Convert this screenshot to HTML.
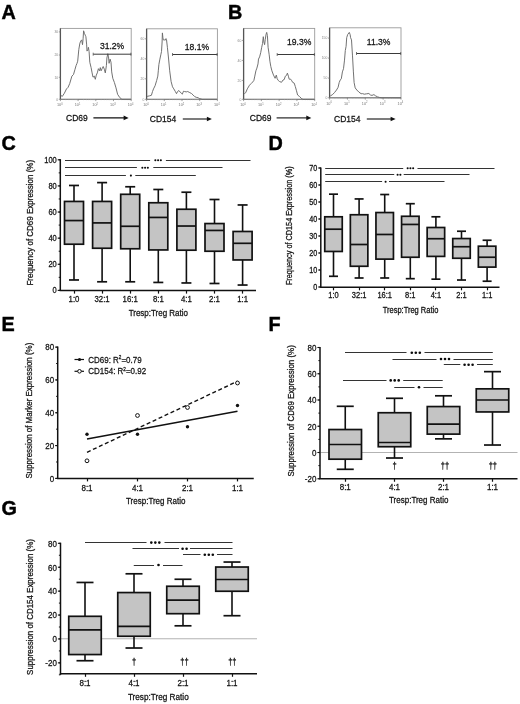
<!DOCTYPE html>
<html><head><meta charset="utf-8"><title>Figure</title>
<style>html,body{margin:0;padding:0;background:#fff;width:520px;height:704px;overflow:hidden}</style>
</head><body>
<svg width="520" height="704" viewBox="0 0 520 704" style="display:block;will-change:transform">
<rect width="520" height="704" fill="#ffffff"/>
<g font-family='"Liberation Sans", sans-serif'>
<text x="1.40" y="18.60" font-size="19.8" text-anchor="start" font-weight="bold" fill="#000" stroke="#000" stroke-width="0.45" >A</text>
<text x="228.00" y="18.60" font-size="19.8" text-anchor="start" font-weight="bold" fill="#000" stroke="#000" stroke-width="0.45" >B</text>
<text x="1.60" y="150.00" font-size="19.8" text-anchor="start" font-weight="bold" fill="#000" stroke="#000" stroke-width="0.45" >C</text>
<text x="268.50" y="149.80" font-size="19.8" text-anchor="start" font-weight="bold" fill="#000" stroke="#000" stroke-width="0.45" >D</text>
<text x="1.50" y="330.50" font-size="19.8" text-anchor="start" font-weight="bold" fill="#000" stroke="#000" stroke-width="0.45" >E</text>
<text x="268.50" y="330.50" font-size="19.8" text-anchor="start" font-weight="bold" fill="#000" stroke="#000" stroke-width="0.45" >F</text>
<text x="1.50" y="514.70" font-size="19.8" text-anchor="start" font-weight="bold" fill="#000" stroke="#000" stroke-width="0.45" >G</text>
<rect x="60.40" y="28.40" width="70.80" height="70.90" fill="none" stroke="#9a9a9a" stroke-width="0.9"/>
<line x1="60.40" y1="28.40" x2="60.40" y2="99.30" stroke="#555" stroke-width="1.3" />
<line x1="60.40" y1="99.30" x2="131.20" y2="99.30" stroke="#7a7a7a" stroke-width="1.0" />
<line x1="58.80" y1="31.90" x2="60.40" y2="31.90" stroke="#777" stroke-width="0.7" />
<text x="58.20" y="33.10" font-size="3.4" text-anchor="end" fill="#888">30</text>
<line x1="58.80" y1="55.00" x2="60.40" y2="55.00" stroke="#777" stroke-width="0.7" />
<text x="58.20" y="56.20" font-size="3.4" text-anchor="end" fill="#888">20</text>
<line x1="58.80" y1="77.30" x2="60.40" y2="77.30" stroke="#777" stroke-width="0.7" />
<text x="58.20" y="78.50" font-size="3.4" text-anchor="end" fill="#888">10</text>
<line x1="58.80" y1="99.30" x2="60.40" y2="99.30" stroke="#777" stroke-width="0.7" />
<text x="58.20" y="100.50" font-size="3.4" text-anchor="end" fill="#888">0</text>
<line x1="65.73" y1="99.30" x2="65.73" y2="100.20" stroke="#aaa" stroke-width="0.5" />
<line x1="68.85" y1="99.30" x2="68.85" y2="100.20" stroke="#aaa" stroke-width="0.5" />
<line x1="71.06" y1="99.30" x2="71.06" y2="100.20" stroke="#aaa" stroke-width="0.5" />
<line x1="72.77" y1="99.30" x2="72.77" y2="100.20" stroke="#aaa" stroke-width="0.5" />
<line x1="74.17" y1="99.30" x2="74.17" y2="100.20" stroke="#aaa" stroke-width="0.5" />
<line x1="75.36" y1="99.30" x2="75.36" y2="100.20" stroke="#aaa" stroke-width="0.5" />
<line x1="76.38" y1="99.30" x2="76.38" y2="100.20" stroke="#aaa" stroke-width="0.5" />
<line x1="77.29" y1="99.30" x2="77.29" y2="100.20" stroke="#aaa" stroke-width="0.5" />
<line x1="60.40" y1="99.30" x2="60.40" y2="101.10" stroke="#777" stroke-width="0.7" />
<line x1="83.43" y1="99.30" x2="83.43" y2="100.20" stroke="#aaa" stroke-width="0.5" />
<line x1="86.55" y1="99.30" x2="86.55" y2="100.20" stroke="#aaa" stroke-width="0.5" />
<line x1="88.76" y1="99.30" x2="88.76" y2="100.20" stroke="#aaa" stroke-width="0.5" />
<line x1="90.47" y1="99.30" x2="90.47" y2="100.20" stroke="#aaa" stroke-width="0.5" />
<line x1="91.87" y1="99.30" x2="91.87" y2="100.20" stroke="#aaa" stroke-width="0.5" />
<line x1="93.06" y1="99.30" x2="93.06" y2="100.20" stroke="#aaa" stroke-width="0.5" />
<line x1="94.08" y1="99.30" x2="94.08" y2="100.20" stroke="#aaa" stroke-width="0.5" />
<line x1="94.99" y1="99.30" x2="94.99" y2="100.20" stroke="#aaa" stroke-width="0.5" />
<line x1="78.10" y1="99.30" x2="78.10" y2="101.10" stroke="#777" stroke-width="0.7" />
<line x1="101.13" y1="99.30" x2="101.13" y2="100.20" stroke="#aaa" stroke-width="0.5" />
<line x1="104.25" y1="99.30" x2="104.25" y2="100.20" stroke="#aaa" stroke-width="0.5" />
<line x1="106.46" y1="99.30" x2="106.46" y2="100.20" stroke="#aaa" stroke-width="0.5" />
<line x1="108.17" y1="99.30" x2="108.17" y2="100.20" stroke="#aaa" stroke-width="0.5" />
<line x1="109.57" y1="99.30" x2="109.57" y2="100.20" stroke="#aaa" stroke-width="0.5" />
<line x1="110.76" y1="99.30" x2="110.76" y2="100.20" stroke="#aaa" stroke-width="0.5" />
<line x1="111.78" y1="99.30" x2="111.78" y2="100.20" stroke="#aaa" stroke-width="0.5" />
<line x1="112.69" y1="99.30" x2="112.69" y2="100.20" stroke="#aaa" stroke-width="0.5" />
<line x1="95.80" y1="99.30" x2="95.80" y2="101.10" stroke="#777" stroke-width="0.7" />
<line x1="118.83" y1="99.30" x2="118.83" y2="100.20" stroke="#aaa" stroke-width="0.5" />
<line x1="121.95" y1="99.30" x2="121.95" y2="100.20" stroke="#aaa" stroke-width="0.5" />
<line x1="124.16" y1="99.30" x2="124.16" y2="100.20" stroke="#aaa" stroke-width="0.5" />
<line x1="125.87" y1="99.30" x2="125.87" y2="100.20" stroke="#aaa" stroke-width="0.5" />
<line x1="127.27" y1="99.30" x2="127.27" y2="100.20" stroke="#aaa" stroke-width="0.5" />
<line x1="128.46" y1="99.30" x2="128.46" y2="100.20" stroke="#aaa" stroke-width="0.5" />
<line x1="129.48" y1="99.30" x2="129.48" y2="100.20" stroke="#aaa" stroke-width="0.5" />
<line x1="130.39" y1="99.30" x2="130.39" y2="100.20" stroke="#aaa" stroke-width="0.5" />
<line x1="113.50" y1="99.30" x2="113.50" y2="101.10" stroke="#777" stroke-width="0.7" />
<line x1="131.20" y1="99.30" x2="131.20" y2="101.10" stroke="#777" stroke-width="0.7" />
<text x="59.80" y="106.30" font-size="3.8" text-anchor="middle" fill="#777">10<tspan dy="-1.4" font-size="2.6">0</tspan></text>
<text x="77.50" y="106.30" font-size="3.8" text-anchor="middle" fill="#777">10<tspan dy="-1.4" font-size="2.6">1</tspan></text>
<text x="95.20" y="106.30" font-size="3.8" text-anchor="middle" fill="#777">10<tspan dy="-1.4" font-size="2.6">2</tspan></text>
<text x="112.90" y="106.30" font-size="3.8" text-anchor="middle" fill="#777">10<tspan dy="-1.4" font-size="2.6">3</tspan></text>
<text x="130.60" y="106.30" font-size="3.8" text-anchor="middle" fill="#777">10<tspan dy="-1.4" font-size="2.6">4</tspan></text>
<path d="M60.70,95.30 L62.30,96.40 L64.40,93.20 L66.50,88.90 L68.10,87.30 L69.70,83.60 L71.90,76.10 L73.50,74.50 L74.90,69.70 L76.10,65.50 L77.00,63.30 L77.70,61.20 L78.80,49.50 L79.90,43.10 L80.90,40.90 L81.70,39.90 L82.50,44.70 L83.10,38.80 L83.60,30.80 L84.50,33.50 L85.20,35.10 L85.90,36.70 L86.60,44.10 L87.00,51.10 L87.90,49.50 L88.40,47.30 L89.10,51.60 L89.80,62.30 L91.10,67.60 L92.10,72.90 L93.00,77.20 L94.30,76.10 L95.30,79.30 L96.30,75.10 L97.30,72.90 L98.40,68.70 L99.50,70.80 L100.30,67.60 L101.10,70.80 L102.10,68.70 L103.20,66.50 L104.30,69.20 L105.30,72.90 L106.40,65.50 L106.90,58.00 L107.80,53.70 L108.50,56.90 L109.10,63.30 L109.60,61.20 L110.10,59.10 L111.00,62.30 L111.70,71.90 L112.80,78.30 L114.40,82.50 L116.00,87.90 L117.60,94.30 L119.70,97.50 L121.90,99.30 L131.00,99.30" fill="none" stroke="#6a6a6a" stroke-width="0.95" stroke-linejoin="round"/>
<line x1="93.20" y1="54.20" x2="131.20" y2="54.20" stroke="#3a3a3a" stroke-width="1.0" />
<line x1="93.20" y1="52.70" x2="93.20" y2="55.70" stroke="#555" stroke-width="0.8" />
<line x1="130.90" y1="52.70" x2="130.90" y2="55.70" stroke="#555" stroke-width="0.8" />
<text transform="translate(99.90,49.30) scale(0.8696,1)" font-size="9.89" text-anchor="start" font-weight="normal" fill="#141414" stroke="#141414" stroke-width="0.28" >31.2%</text>
<rect x="146.60" y="28.80" width="70.80" height="70.50" fill="none" stroke="#9a9a9a" stroke-width="0.9"/>
<line x1="146.60" y1="28.80" x2="146.60" y2="99.30" stroke="#555" stroke-width="1.3" />
<line x1="146.60" y1="99.30" x2="217.40" y2="99.30" stroke="#7a7a7a" stroke-width="1.0" />
<line x1="145.00" y1="38.80" x2="146.60" y2="38.80" stroke="#777" stroke-width="0.7" />
<text x="144.40" y="40.00" font-size="3.4" text-anchor="end" fill="#888">60</text>
<line x1="145.00" y1="58.80" x2="146.60" y2="58.80" stroke="#777" stroke-width="0.7" />
<text x="144.40" y="60.00" font-size="3.4" text-anchor="end" fill="#888">40</text>
<line x1="145.00" y1="78.80" x2="146.60" y2="78.80" stroke="#777" stroke-width="0.7" />
<text x="144.40" y="80.00" font-size="3.4" text-anchor="end" fill="#888">20</text>
<line x1="145.00" y1="99.30" x2="146.60" y2="99.30" stroke="#777" stroke-width="0.7" />
<text x="144.40" y="100.50" font-size="3.4" text-anchor="end" fill="#888">0</text>
<line x1="151.93" y1="99.30" x2="151.93" y2="100.20" stroke="#aaa" stroke-width="0.5" />
<line x1="155.05" y1="99.30" x2="155.05" y2="100.20" stroke="#aaa" stroke-width="0.5" />
<line x1="157.26" y1="99.30" x2="157.26" y2="100.20" stroke="#aaa" stroke-width="0.5" />
<line x1="158.97" y1="99.30" x2="158.97" y2="100.20" stroke="#aaa" stroke-width="0.5" />
<line x1="160.37" y1="99.30" x2="160.37" y2="100.20" stroke="#aaa" stroke-width="0.5" />
<line x1="161.56" y1="99.30" x2="161.56" y2="100.20" stroke="#aaa" stroke-width="0.5" />
<line x1="162.58" y1="99.30" x2="162.58" y2="100.20" stroke="#aaa" stroke-width="0.5" />
<line x1="163.49" y1="99.30" x2="163.49" y2="100.20" stroke="#aaa" stroke-width="0.5" />
<line x1="146.60" y1="99.30" x2="146.60" y2="101.10" stroke="#777" stroke-width="0.7" />
<line x1="169.63" y1="99.30" x2="169.63" y2="100.20" stroke="#aaa" stroke-width="0.5" />
<line x1="172.75" y1="99.30" x2="172.75" y2="100.20" stroke="#aaa" stroke-width="0.5" />
<line x1="174.96" y1="99.30" x2="174.96" y2="100.20" stroke="#aaa" stroke-width="0.5" />
<line x1="176.67" y1="99.30" x2="176.67" y2="100.20" stroke="#aaa" stroke-width="0.5" />
<line x1="178.07" y1="99.30" x2="178.07" y2="100.20" stroke="#aaa" stroke-width="0.5" />
<line x1="179.26" y1="99.30" x2="179.26" y2="100.20" stroke="#aaa" stroke-width="0.5" />
<line x1="180.28" y1="99.30" x2="180.28" y2="100.20" stroke="#aaa" stroke-width="0.5" />
<line x1="181.19" y1="99.30" x2="181.19" y2="100.20" stroke="#aaa" stroke-width="0.5" />
<line x1="164.30" y1="99.30" x2="164.30" y2="101.10" stroke="#777" stroke-width="0.7" />
<line x1="187.33" y1="99.30" x2="187.33" y2="100.20" stroke="#aaa" stroke-width="0.5" />
<line x1="190.45" y1="99.30" x2="190.45" y2="100.20" stroke="#aaa" stroke-width="0.5" />
<line x1="192.66" y1="99.30" x2="192.66" y2="100.20" stroke="#aaa" stroke-width="0.5" />
<line x1="194.37" y1="99.30" x2="194.37" y2="100.20" stroke="#aaa" stroke-width="0.5" />
<line x1="195.77" y1="99.30" x2="195.77" y2="100.20" stroke="#aaa" stroke-width="0.5" />
<line x1="196.96" y1="99.30" x2="196.96" y2="100.20" stroke="#aaa" stroke-width="0.5" />
<line x1="197.98" y1="99.30" x2="197.98" y2="100.20" stroke="#aaa" stroke-width="0.5" />
<line x1="198.89" y1="99.30" x2="198.89" y2="100.20" stroke="#aaa" stroke-width="0.5" />
<line x1="182.00" y1="99.30" x2="182.00" y2="101.10" stroke="#777" stroke-width="0.7" />
<line x1="205.03" y1="99.30" x2="205.03" y2="100.20" stroke="#aaa" stroke-width="0.5" />
<line x1="208.15" y1="99.30" x2="208.15" y2="100.20" stroke="#aaa" stroke-width="0.5" />
<line x1="210.36" y1="99.30" x2="210.36" y2="100.20" stroke="#aaa" stroke-width="0.5" />
<line x1="212.07" y1="99.30" x2="212.07" y2="100.20" stroke="#aaa" stroke-width="0.5" />
<line x1="213.47" y1="99.30" x2="213.47" y2="100.20" stroke="#aaa" stroke-width="0.5" />
<line x1="214.66" y1="99.30" x2="214.66" y2="100.20" stroke="#aaa" stroke-width="0.5" />
<line x1="215.68" y1="99.30" x2="215.68" y2="100.20" stroke="#aaa" stroke-width="0.5" />
<line x1="216.59" y1="99.30" x2="216.59" y2="100.20" stroke="#aaa" stroke-width="0.5" />
<line x1="199.70" y1="99.30" x2="199.70" y2="101.10" stroke="#777" stroke-width="0.7" />
<line x1="217.40" y1="99.30" x2="217.40" y2="101.10" stroke="#777" stroke-width="0.7" />
<text x="146.00" y="106.30" font-size="3.8" text-anchor="middle" fill="#777">10<tspan dy="-1.4" font-size="2.6">0</tspan></text>
<text x="163.70" y="106.30" font-size="3.8" text-anchor="middle" fill="#777">10<tspan dy="-1.4" font-size="2.6">1</tspan></text>
<text x="181.40" y="106.30" font-size="3.8" text-anchor="middle" fill="#777">10<tspan dy="-1.4" font-size="2.6">2</tspan></text>
<text x="199.10" y="106.30" font-size="3.8" text-anchor="middle" fill="#777">10<tspan dy="-1.4" font-size="2.6">3</tspan></text>
<text x="216.80" y="106.30" font-size="3.8" text-anchor="middle" fill="#777">10<tspan dy="-1.4" font-size="2.6">4</tspan></text>
<path d="M147.10,96.40 L149.30,95.90 L151.40,95.30 L152.50,91.60 L153.50,88.90 L155.10,85.70 L156.70,80.40 L157.80,76.10 L158.30,70.80 L158.90,64.40 L159.90,59.10 L160.80,54.80 L161.50,51.60 L162.10,42.00 L162.40,32.90 L162.90,37.70 L163.30,39.90 L164.20,39.90 L165.30,40.10 L166.00,38.60 L166.50,39.70 L167.40,47.30 L168.50,58.00 L169.70,70.80 L171.10,81.50 L172.50,86.80 L173.80,88.90 L175.40,91.60 L176.50,93.70 L177.50,91.60 L178.90,90.50 L180.20,92.10 L181.20,93.10 L182.30,94.20 L183.50,91.20 L184.60,91.50 L186.20,91.90 L187.70,91.50 L189.20,92.30 L191.50,93.50 L193.10,95.00 L194.60,96.50 L196.20,97.30 L198.10,97.70 L199.20,98.50 L200.80,98.80 L202.00,99.30 L217.00,99.30" fill="none" stroke="#6a6a6a" stroke-width="0.95" stroke-linejoin="round"/>
<line x1="172.50" y1="54.50" x2="217.40" y2="54.50" stroke="#3a3a3a" stroke-width="1.0" />
<line x1="172.50" y1="53.00" x2="172.50" y2="56.00" stroke="#555" stroke-width="0.8" />
<line x1="217.10" y1="53.00" x2="217.10" y2="56.00" stroke="#555" stroke-width="0.8" />
<text transform="translate(184.80,49.60) scale(0.8696,1)" font-size="9.89" text-anchor="start" font-weight="normal" fill="#141414" stroke="#141414" stroke-width="0.28" >18.1%</text>
<rect x="243.60" y="28.40" width="71.10" height="70.90" fill="none" stroke="#9a9a9a" stroke-width="0.9"/>
<line x1="243.60" y1="28.40" x2="243.60" y2="99.30" stroke="#555" stroke-width="1.3" />
<line x1="243.60" y1="99.30" x2="314.70" y2="99.30" stroke="#7a7a7a" stroke-width="1.0" />
<line x1="242.00" y1="40.40" x2="243.60" y2="40.40" stroke="#777" stroke-width="0.7" />
<text x="241.40" y="41.60" font-size="3.4" text-anchor="end" fill="#888">60</text>
<line x1="242.00" y1="60.40" x2="243.60" y2="60.40" stroke="#777" stroke-width="0.7" />
<text x="241.40" y="61.60" font-size="3.4" text-anchor="end" fill="#888">40</text>
<line x1="242.00" y1="80.40" x2="243.60" y2="80.40" stroke="#777" stroke-width="0.7" />
<text x="241.40" y="81.60" font-size="3.4" text-anchor="end" fill="#888">20</text>
<line x1="242.00" y1="99.30" x2="243.60" y2="99.30" stroke="#777" stroke-width="0.7" />
<text x="241.40" y="100.50" font-size="3.4" text-anchor="end" fill="#888">0</text>
<line x1="248.95" y1="99.30" x2="248.95" y2="100.20" stroke="#aaa" stroke-width="0.5" />
<line x1="252.08" y1="99.30" x2="252.08" y2="100.20" stroke="#aaa" stroke-width="0.5" />
<line x1="254.30" y1="99.30" x2="254.30" y2="100.20" stroke="#aaa" stroke-width="0.5" />
<line x1="256.02" y1="99.30" x2="256.02" y2="100.20" stroke="#aaa" stroke-width="0.5" />
<line x1="257.43" y1="99.30" x2="257.43" y2="100.20" stroke="#aaa" stroke-width="0.5" />
<line x1="258.62" y1="99.30" x2="258.62" y2="100.20" stroke="#aaa" stroke-width="0.5" />
<line x1="259.65" y1="99.30" x2="259.65" y2="100.20" stroke="#aaa" stroke-width="0.5" />
<line x1="260.56" y1="99.30" x2="260.56" y2="100.20" stroke="#aaa" stroke-width="0.5" />
<line x1="243.60" y1="99.30" x2="243.60" y2="101.10" stroke="#777" stroke-width="0.7" />
<line x1="266.73" y1="99.30" x2="266.73" y2="100.20" stroke="#aaa" stroke-width="0.5" />
<line x1="269.86" y1="99.30" x2="269.86" y2="100.20" stroke="#aaa" stroke-width="0.5" />
<line x1="272.08" y1="99.30" x2="272.08" y2="100.20" stroke="#aaa" stroke-width="0.5" />
<line x1="273.80" y1="99.30" x2="273.80" y2="100.20" stroke="#aaa" stroke-width="0.5" />
<line x1="275.21" y1="99.30" x2="275.21" y2="100.20" stroke="#aaa" stroke-width="0.5" />
<line x1="276.40" y1="99.30" x2="276.40" y2="100.20" stroke="#aaa" stroke-width="0.5" />
<line x1="277.43" y1="99.30" x2="277.43" y2="100.20" stroke="#aaa" stroke-width="0.5" />
<line x1="278.34" y1="99.30" x2="278.34" y2="100.20" stroke="#aaa" stroke-width="0.5" />
<line x1="261.38" y1="99.30" x2="261.38" y2="101.10" stroke="#777" stroke-width="0.7" />
<line x1="284.50" y1="99.30" x2="284.50" y2="100.20" stroke="#aaa" stroke-width="0.5" />
<line x1="287.63" y1="99.30" x2="287.63" y2="100.20" stroke="#aaa" stroke-width="0.5" />
<line x1="289.85" y1="99.30" x2="289.85" y2="100.20" stroke="#aaa" stroke-width="0.5" />
<line x1="291.57" y1="99.30" x2="291.57" y2="100.20" stroke="#aaa" stroke-width="0.5" />
<line x1="292.98" y1="99.30" x2="292.98" y2="100.20" stroke="#aaa" stroke-width="0.5" />
<line x1="294.17" y1="99.30" x2="294.17" y2="100.20" stroke="#aaa" stroke-width="0.5" />
<line x1="295.20" y1="99.30" x2="295.20" y2="100.20" stroke="#aaa" stroke-width="0.5" />
<line x1="296.11" y1="99.30" x2="296.11" y2="100.20" stroke="#aaa" stroke-width="0.5" />
<line x1="279.15" y1="99.30" x2="279.15" y2="101.10" stroke="#777" stroke-width="0.7" />
<line x1="302.28" y1="99.30" x2="302.28" y2="100.20" stroke="#aaa" stroke-width="0.5" />
<line x1="305.41" y1="99.30" x2="305.41" y2="100.20" stroke="#aaa" stroke-width="0.5" />
<line x1="307.63" y1="99.30" x2="307.63" y2="100.20" stroke="#aaa" stroke-width="0.5" />
<line x1="309.35" y1="99.30" x2="309.35" y2="100.20" stroke="#aaa" stroke-width="0.5" />
<line x1="310.76" y1="99.30" x2="310.76" y2="100.20" stroke="#aaa" stroke-width="0.5" />
<line x1="311.95" y1="99.30" x2="311.95" y2="100.20" stroke="#aaa" stroke-width="0.5" />
<line x1="312.98" y1="99.30" x2="312.98" y2="100.20" stroke="#aaa" stroke-width="0.5" />
<line x1="313.89" y1="99.30" x2="313.89" y2="100.20" stroke="#aaa" stroke-width="0.5" />
<line x1="296.93" y1="99.30" x2="296.93" y2="101.10" stroke="#777" stroke-width="0.7" />
<line x1="314.70" y1="99.30" x2="314.70" y2="101.10" stroke="#777" stroke-width="0.7" />
<text x="243.00" y="106.30" font-size="3.8" text-anchor="middle" fill="#777">10<tspan dy="-1.4" font-size="2.6">0</tspan></text>
<text x="260.77" y="106.30" font-size="3.8" text-anchor="middle" fill="#777">10<tspan dy="-1.4" font-size="2.6">1</tspan></text>
<text x="278.55" y="106.30" font-size="3.8" text-anchor="middle" fill="#777">10<tspan dy="-1.4" font-size="2.6">2</tspan></text>
<text x="296.32" y="106.30" font-size="3.8" text-anchor="middle" fill="#777">10<tspan dy="-1.4" font-size="2.6">3</tspan></text>
<text x="314.10" y="106.30" font-size="3.8" text-anchor="middle" fill="#777">10<tspan dy="-1.4" font-size="2.6">4</tspan></text>
<path d="M244.30,93.70 L245.70,92.70 L247.30,88.90 L249.50,85.20 L251.10,83.60 L252.70,82.00 L253.90,80.40 L254.80,76.10 L255.90,70.80 L256.90,68.10 L258.00,63.90 L258.50,59.10 L259.60,56.90 L260.70,52.70 L261.70,47.30 L262.50,43.60 L263.30,36.70 L263.90,42.00 L264.60,44.70 L265.30,39.30 L266.00,34.50 L266.70,32.40 L267.40,35.60 L268.10,47.30 L269.20,54.80 L269.90,61.20 L270.80,66.50 L271.90,70.80 L273.50,75.10 L275.10,78.30 L276.30,75.10 L277.20,78.80 L278.30,80.50 L279.50,81.50 L281.50,82.30 L283.00,80.00 L284.20,79.60 L285.30,76.20 L286.50,75.40 L287.40,73.10 L288.40,76.20 L289.20,79.20 L290.70,79.20 L291.80,80.80 L292.60,82.30 L294.20,83.10 L295.30,86.50 L296.50,90.80 L297.60,95.00 L299.50,96.50 L301.80,98.80 L303.00,99.30 L314.50,99.30" fill="none" stroke="#6a6a6a" stroke-width="0.95" stroke-linejoin="round"/>
<line x1="277.20" y1="54.50" x2="314.70" y2="54.50" stroke="#3a3a3a" stroke-width="1.0" />
<line x1="277.20" y1="53.00" x2="277.20" y2="56.00" stroke="#555" stroke-width="0.8" />
<line x1="314.40" y1="53.00" x2="314.40" y2="56.00" stroke="#555" stroke-width="0.8" />
<text transform="translate(287.00,44.70) scale(0.8696,1)" font-size="9.89" text-anchor="start" font-weight="normal" fill="#141414" stroke="#141414" stroke-width="0.28" >19.3%</text>
<rect x="329.60" y="27.80" width="71.40" height="70.00" fill="none" stroke="#9a9a9a" stroke-width="0.9"/>
<line x1="329.60" y1="27.80" x2="329.60" y2="97.80" stroke="#555" stroke-width="1.3" />
<line x1="329.60" y1="97.80" x2="401.00" y2="97.80" stroke="#7a7a7a" stroke-width="1.0" />
<line x1="328.00" y1="38.10" x2="329.60" y2="38.10" stroke="#777" stroke-width="0.7" />
<text x="327.40" y="39.30" font-size="3.4" text-anchor="end" fill="#888">150</text>
<line x1="328.00" y1="58.10" x2="329.60" y2="58.10" stroke="#777" stroke-width="0.7" />
<text x="327.40" y="59.30" font-size="3.4" text-anchor="end" fill="#888">100</text>
<line x1="328.00" y1="78.10" x2="329.60" y2="78.10" stroke="#777" stroke-width="0.7" />
<text x="327.40" y="79.30" font-size="3.4" text-anchor="end" fill="#888">50</text>
<line x1="328.00" y1="97.80" x2="329.60" y2="97.80" stroke="#777" stroke-width="0.7" />
<text x="327.40" y="99.00" font-size="3.4" text-anchor="end" fill="#888">0</text>
<line x1="334.97" y1="97.80" x2="334.97" y2="98.70" stroke="#aaa" stroke-width="0.5" />
<line x1="338.12" y1="97.80" x2="338.12" y2="98.70" stroke="#aaa" stroke-width="0.5" />
<line x1="340.35" y1="97.80" x2="340.35" y2="98.70" stroke="#aaa" stroke-width="0.5" />
<line x1="342.08" y1="97.80" x2="342.08" y2="98.70" stroke="#aaa" stroke-width="0.5" />
<line x1="343.49" y1="97.80" x2="343.49" y2="98.70" stroke="#aaa" stroke-width="0.5" />
<line x1="344.69" y1="97.80" x2="344.69" y2="98.70" stroke="#aaa" stroke-width="0.5" />
<line x1="345.72" y1="97.80" x2="345.72" y2="98.70" stroke="#aaa" stroke-width="0.5" />
<line x1="346.63" y1="97.80" x2="346.63" y2="98.70" stroke="#aaa" stroke-width="0.5" />
<line x1="329.60" y1="97.80" x2="329.60" y2="99.60" stroke="#777" stroke-width="0.7" />
<line x1="352.82" y1="97.80" x2="352.82" y2="98.70" stroke="#aaa" stroke-width="0.5" />
<line x1="355.97" y1="97.80" x2="355.97" y2="98.70" stroke="#aaa" stroke-width="0.5" />
<line x1="358.20" y1="97.80" x2="358.20" y2="98.70" stroke="#aaa" stroke-width="0.5" />
<line x1="359.93" y1="97.80" x2="359.93" y2="98.70" stroke="#aaa" stroke-width="0.5" />
<line x1="361.34" y1="97.80" x2="361.34" y2="98.70" stroke="#aaa" stroke-width="0.5" />
<line x1="362.54" y1="97.80" x2="362.54" y2="98.70" stroke="#aaa" stroke-width="0.5" />
<line x1="363.57" y1="97.80" x2="363.57" y2="98.70" stroke="#aaa" stroke-width="0.5" />
<line x1="364.48" y1="97.80" x2="364.48" y2="98.70" stroke="#aaa" stroke-width="0.5" />
<line x1="347.45" y1="97.80" x2="347.45" y2="99.60" stroke="#777" stroke-width="0.7" />
<line x1="370.67" y1="97.80" x2="370.67" y2="98.70" stroke="#aaa" stroke-width="0.5" />
<line x1="373.82" y1="97.80" x2="373.82" y2="98.70" stroke="#aaa" stroke-width="0.5" />
<line x1="376.05" y1="97.80" x2="376.05" y2="98.70" stroke="#aaa" stroke-width="0.5" />
<line x1="377.78" y1="97.80" x2="377.78" y2="98.70" stroke="#aaa" stroke-width="0.5" />
<line x1="379.19" y1="97.80" x2="379.19" y2="98.70" stroke="#aaa" stroke-width="0.5" />
<line x1="380.39" y1="97.80" x2="380.39" y2="98.70" stroke="#aaa" stroke-width="0.5" />
<line x1="381.42" y1="97.80" x2="381.42" y2="98.70" stroke="#aaa" stroke-width="0.5" />
<line x1="382.33" y1="97.80" x2="382.33" y2="98.70" stroke="#aaa" stroke-width="0.5" />
<line x1="365.30" y1="97.80" x2="365.30" y2="99.60" stroke="#777" stroke-width="0.7" />
<line x1="388.52" y1="97.80" x2="388.52" y2="98.70" stroke="#aaa" stroke-width="0.5" />
<line x1="391.67" y1="97.80" x2="391.67" y2="98.70" stroke="#aaa" stroke-width="0.5" />
<line x1="393.90" y1="97.80" x2="393.90" y2="98.70" stroke="#aaa" stroke-width="0.5" />
<line x1="395.63" y1="97.80" x2="395.63" y2="98.70" stroke="#aaa" stroke-width="0.5" />
<line x1="397.04" y1="97.80" x2="397.04" y2="98.70" stroke="#aaa" stroke-width="0.5" />
<line x1="398.24" y1="97.80" x2="398.24" y2="98.70" stroke="#aaa" stroke-width="0.5" />
<line x1="399.27" y1="97.80" x2="399.27" y2="98.70" stroke="#aaa" stroke-width="0.5" />
<line x1="400.18" y1="97.80" x2="400.18" y2="98.70" stroke="#aaa" stroke-width="0.5" />
<line x1="383.15" y1="97.80" x2="383.15" y2="99.60" stroke="#777" stroke-width="0.7" />
<line x1="401.00" y1="97.80" x2="401.00" y2="99.60" stroke="#777" stroke-width="0.7" />
<text x="329.00" y="104.80" font-size="3.8" text-anchor="middle" fill="#777">10<tspan dy="-1.4" font-size="2.6">0</tspan></text>
<text x="346.85" y="104.80" font-size="3.8" text-anchor="middle" fill="#777">10<tspan dy="-1.4" font-size="2.6">1</tspan></text>
<text x="364.70" y="104.80" font-size="3.8" text-anchor="middle" fill="#777">10<tspan dy="-1.4" font-size="2.6">2</tspan></text>
<text x="382.55" y="104.80" font-size="3.8" text-anchor="middle" fill="#777">10<tspan dy="-1.4" font-size="2.6">3</tspan></text>
<text x="400.40" y="104.80" font-size="3.8" text-anchor="middle" fill="#777">10<tspan dy="-1.4" font-size="2.6">4</tspan></text>
<path d="M330.30,95.90 L332.30,94.80 L334.40,92.70 L336.50,90.00 L338.10,87.30 L339.20,82.50 L340.30,79.90 L341.30,78.80 L342.40,71.90 L343.50,68.70 L344.50,60.10 L345.30,50.50 L346.10,46.30 L346.70,37.70 L347.70,34.50 L349.30,32.40 L350.10,34.50 L350.60,37.70 L351.50,39.90 L352.50,55.90 L353.40,71.90 L354.10,82.50 L355.20,87.90 L356.80,90.00 L358.90,92.10 L361.10,93.70 L362.50,93.60 L364.30,94.20 L366.60,93.80 L368.90,93.50 L370.50,95.00 L372.00,95.40 L373.90,94.60 L375.50,95.80 L377.40,96.80 L379.70,97.50 L382.00,97.80 L401.00,97.80" fill="none" stroke="#6a6a6a" stroke-width="0.95" stroke-linejoin="round"/>
<line x1="356.50" y1="53.50" x2="401.00" y2="53.50" stroke="#3a3a3a" stroke-width="1.0" />
<line x1="356.50" y1="52.00" x2="356.50" y2="55.00" stroke="#555" stroke-width="0.8" />
<line x1="400.70" y1="52.00" x2="400.70" y2="55.00" stroke="#555" stroke-width="0.8" />
<text transform="translate(366.80,45.00) scale(0.8696,1)" font-size="9.89" text-anchor="start" font-weight="normal" fill="#141414" stroke="#141414" stroke-width="0.28" >11.3%</text>
<text transform="translate(66.10,121.10) scale(0.8696,1)" font-size="9.77" text-anchor="start" font-weight="normal" fill="#141414" stroke="#141414" stroke-width="0.28" >CD69</text>
<line x1="93.40" y1="117.90" x2="125.10" y2="117.90" stroke="#111" stroke-width="1.1" />
<path d="M123.60,115.60 L128.60,117.90 L123.60,120.20 Z" fill="#111"/>
<text transform="translate(149.80,122.40) scale(0.8696,1)" font-size="9.77" text-anchor="start" font-weight="normal" fill="#141414" stroke="#141414" stroke-width="0.28" >CD154</text>
<line x1="182.80" y1="119.00" x2="208.40" y2="119.00" stroke="#111" stroke-width="1.1" />
<path d="M206.90,116.70 L211.90,119.00 L206.90,121.30 Z" fill="#111"/>
<text transform="translate(249.80,121.40) scale(0.8696,1)" font-size="9.77" text-anchor="start" font-weight="normal" fill="#141414" stroke="#141414" stroke-width="0.28" >CD69</text>
<line x1="276.60" y1="117.90" x2="307.80" y2="117.90" stroke="#111" stroke-width="1.1" />
<path d="M306.30,115.60 L311.30,117.90 L306.30,120.20 Z" fill="#111"/>
<text transform="translate(334.10,122.40) scale(0.8696,1)" font-size="9.77" text-anchor="start" font-weight="normal" fill="#141414" stroke="#141414" stroke-width="0.28" >CD154</text>
<line x1="366.80" y1="119.00" x2="392.10" y2="119.00" stroke="#111" stroke-width="1.1" />
<path d="M390.60,116.70 L395.60,119.00 L390.60,121.30 Z" fill="#111"/>
<line x1="65.00" y1="160.50" x2="150.10" y2="160.50" stroke="#333" stroke-width="1.05" />
<line x1="165.90" y1="160.50" x2="250.50" y2="160.50" stroke="#333" stroke-width="1.05" />
<circle cx="155.35" cy="160.30" r="1.05" fill="#0a0a0a"/>
<circle cx="158.10" cy="160.30" r="1.05" fill="#0a0a0a"/>
<circle cx="160.85" cy="160.30" r="1.05" fill="#0a0a0a"/>
<line x1="65.00" y1="167.50" x2="136.90" y2="167.50" stroke="#333" stroke-width="1.05" />
<line x1="153.30" y1="167.50" x2="222.50" y2="167.50" stroke="#333" stroke-width="1.05" />
<circle cx="142.35" cy="167.70" r="1.05" fill="#0a0a0a"/>
<circle cx="145.10" cy="167.70" r="1.05" fill="#0a0a0a"/>
<circle cx="147.85" cy="167.70" r="1.05" fill="#0a0a0a"/>
<line x1="65.00" y1="175.50" x2="125.90" y2="175.50" stroke="#333" stroke-width="1.05" />
<line x1="135.30" y1="175.50" x2="195.80" y2="175.50" stroke="#333" stroke-width="1.05" />
<circle cx="130.90" cy="175.60" r="1.05" fill="#0a0a0a"/>
<line x1="74.00" y1="185.46" x2="74.00" y2="201.45" stroke="#111" stroke-width="1.6" />
<line x1="74.00" y1="244.22" x2="74.00" y2="279.97" stroke="#111" stroke-width="1.6" />
<line x1="69.00" y1="185.46" x2="79.00" y2="185.46" stroke="#111" stroke-width="1.7000000000000002" />
<line x1="69.00" y1="279.97" x2="79.00" y2="279.97" stroke="#111" stroke-width="1.7000000000000002" />
<rect x="64.50" y="201.45" width="19.00" height="42.77" fill="#c4c4c4" stroke="#111" stroke-width="1.7"/>
<line x1="64.50" y1="220.56" x2="83.50" y2="220.56" stroke="#111" stroke-width="1.7" />
<line x1="102.10" y1="182.60" x2="102.10" y2="201.45" stroke="#111" stroke-width="1.6" />
<line x1="102.10" y1="248.25" x2="102.10" y2="281.79" stroke="#111" stroke-width="1.6" />
<line x1="97.10" y1="182.60" x2="107.10" y2="182.60" stroke="#111" stroke-width="1.7000000000000002" />
<line x1="97.10" y1="281.79" x2="107.10" y2="281.79" stroke="#111" stroke-width="1.7000000000000002" />
<rect x="92.60" y="201.45" width="19.00" height="46.80" fill="#c4c4c4" stroke="#111" stroke-width="1.7"/>
<line x1="92.60" y1="222.90" x2="111.60" y2="222.90" stroke="#111" stroke-width="1.7" />
<line x1="130.20" y1="186.76" x2="130.20" y2="194.30" stroke="#111" stroke-width="1.6" />
<line x1="130.20" y1="248.77" x2="130.20" y2="281.79" stroke="#111" stroke-width="1.6" />
<line x1="125.20" y1="186.76" x2="135.20" y2="186.76" stroke="#111" stroke-width="1.7000000000000002" />
<line x1="125.20" y1="281.79" x2="135.20" y2="281.79" stroke="#111" stroke-width="1.7000000000000002" />
<rect x="120.70" y="194.30" width="19.00" height="54.47" fill="#c4c4c4" stroke="#111" stroke-width="1.7"/>
<line x1="120.70" y1="226.28" x2="139.70" y2="226.28" stroke="#111" stroke-width="1.7" />
<line x1="158.30" y1="189.49" x2="158.30" y2="202.75" stroke="#111" stroke-width="1.6" />
<line x1="158.30" y1="249.94" x2="158.30" y2="282.44" stroke="#111" stroke-width="1.6" />
<line x1="153.30" y1="189.49" x2="163.30" y2="189.49" stroke="#111" stroke-width="1.7000000000000002" />
<line x1="153.30" y1="282.44" x2="163.30" y2="282.44" stroke="#111" stroke-width="1.7000000000000002" />
<rect x="148.80" y="202.75" width="19.00" height="47.19" fill="#c4c4c4" stroke="#111" stroke-width="1.7"/>
<line x1="148.80" y1="217.44" x2="167.80" y2="217.44" stroke="#111" stroke-width="1.7" />
<line x1="186.40" y1="192.22" x2="186.40" y2="209.25" stroke="#111" stroke-width="1.6" />
<line x1="186.40" y1="250.20" x2="186.40" y2="282.96" stroke="#111" stroke-width="1.6" />
<line x1="181.40" y1="192.22" x2="191.40" y2="192.22" stroke="#111" stroke-width="1.7000000000000002" />
<line x1="181.40" y1="282.96" x2="191.40" y2="282.96" stroke="#111" stroke-width="1.7000000000000002" />
<rect x="176.90" y="209.25" width="19.00" height="40.95" fill="#c4c4c4" stroke="#111" stroke-width="1.7"/>
<line x1="176.90" y1="226.02" x2="195.90" y2="226.02" stroke="#111" stroke-width="1.7" />
<line x1="214.50" y1="199.50" x2="214.50" y2="223.55" stroke="#111" stroke-width="1.6" />
<line x1="214.50" y1="251.24" x2="214.50" y2="283.48" stroke="#111" stroke-width="1.6" />
<line x1="209.50" y1="199.50" x2="219.50" y2="199.50" stroke="#111" stroke-width="1.7000000000000002" />
<line x1="209.50" y1="283.48" x2="219.50" y2="283.48" stroke="#111" stroke-width="1.7000000000000002" />
<rect x="205.00" y="223.55" width="19.00" height="27.69" fill="#c4c4c4" stroke="#111" stroke-width="1.7"/>
<line x1="205.00" y1="230.44" x2="224.00" y2="230.44" stroke="#111" stroke-width="1.7" />
<line x1="242.60" y1="204.96" x2="242.60" y2="231.48" stroke="#111" stroke-width="1.6" />
<line x1="242.60" y1="259.95" x2="242.60" y2="285.04" stroke="#111" stroke-width="1.6" />
<line x1="237.60" y1="204.96" x2="247.60" y2="204.96" stroke="#111" stroke-width="1.7000000000000002" />
<line x1="237.60" y1="285.04" x2="247.60" y2="285.04" stroke="#111" stroke-width="1.7000000000000002" />
<rect x="233.10" y="231.48" width="19.00" height="28.47" fill="#c4c4c4" stroke="#111" stroke-width="1.7"/>
<line x1="233.10" y1="243.31" x2="252.10" y2="243.31" stroke="#111" stroke-width="1.7" />
<line x1="60.30" y1="290.40" x2="60.30" y2="159.20" stroke="#111" stroke-width="1.5" />
<line x1="58.70" y1="290.40" x2="60.30" y2="290.40" stroke="#111" stroke-width="1.0" />
<line x1="58.70" y1="277.34" x2="60.30" y2="277.34" stroke="#111" stroke-width="1.0" />
<line x1="58.70" y1="264.28" x2="60.30" y2="264.28" stroke="#111" stroke-width="1.0" />
<line x1="58.70" y1="251.22" x2="60.30" y2="251.22" stroke="#111" stroke-width="1.0" />
<line x1="58.70" y1="238.16" x2="60.30" y2="238.16" stroke="#111" stroke-width="1.0" />
<line x1="58.70" y1="225.10" x2="60.30" y2="225.10" stroke="#111" stroke-width="1.0" />
<line x1="58.70" y1="212.04" x2="60.30" y2="212.04" stroke="#111" stroke-width="1.0" />
<line x1="58.70" y1="198.98" x2="60.30" y2="198.98" stroke="#111" stroke-width="1.0" />
<line x1="58.70" y1="185.92" x2="60.30" y2="185.92" stroke="#111" stroke-width="1.0" />
<line x1="58.70" y1="172.86" x2="60.30" y2="172.86" stroke="#111" stroke-width="1.0" />
<line x1="58.70" y1="159.80" x2="60.30" y2="159.80" stroke="#111" stroke-width="1.0" />
<line x1="57.70" y1="290.40" x2="60.30" y2="290.40" stroke="#111" stroke-width="1.1" />
<text transform="translate(56.70,293.49) scale(0.8696,1)" font-size="8.62" text-anchor="end" font-weight="normal" fill="#141414" stroke="#141414" stroke-width="0.28" >0</text>
<line x1="57.70" y1="264.28" x2="60.30" y2="264.28" stroke="#111" stroke-width="1.1" />
<text transform="translate(56.70,267.37) scale(0.8696,1)" font-size="8.62" text-anchor="end" font-weight="normal" fill="#141414" stroke="#141414" stroke-width="0.28" >20</text>
<line x1="57.70" y1="238.16" x2="60.30" y2="238.16" stroke="#111" stroke-width="1.1" />
<text transform="translate(56.70,241.25) scale(0.8696,1)" font-size="8.62" text-anchor="end" font-weight="normal" fill="#141414" stroke="#141414" stroke-width="0.28" >40</text>
<line x1="57.70" y1="212.04" x2="60.30" y2="212.04" stroke="#111" stroke-width="1.1" />
<text transform="translate(56.70,215.13) scale(0.8696,1)" font-size="8.62" text-anchor="end" font-weight="normal" fill="#141414" stroke="#141414" stroke-width="0.28" >60</text>
<line x1="57.70" y1="185.92" x2="60.30" y2="185.92" stroke="#111" stroke-width="1.1" />
<text transform="translate(56.70,189.01) scale(0.8696,1)" font-size="8.62" text-anchor="end" font-weight="normal" fill="#141414" stroke="#141414" stroke-width="0.28" >80</text>
<line x1="57.70" y1="159.80" x2="60.30" y2="159.80" stroke="#111" stroke-width="1.1" />
<text transform="translate(56.70,162.89) scale(0.8696,1)" font-size="8.62" text-anchor="end" font-weight="normal" fill="#141414" stroke="#141414" stroke-width="0.28" >100</text>
<line x1="59.60" y1="290.60" x2="256.00" y2="290.60" stroke="#111" stroke-width="1.5" />
<line x1="74.50" y1="290.60" x2="74.50" y2="293.60" stroke="#111" stroke-width="1.2" />
<text transform="translate(74.00,301.91) scale(0.8696,1)" font-size="8.97" text-anchor="middle" font-weight="normal" fill="#141414" stroke="#141414" stroke-width="0.28" >1:0</text>
<line x1="102.50" y1="290.60" x2="102.50" y2="293.60" stroke="#111" stroke-width="1.2" />
<text transform="translate(102.10,301.91) scale(0.8696,1)" font-size="8.97" text-anchor="middle" font-weight="normal" fill="#141414" stroke="#141414" stroke-width="0.28" >32:1</text>
<line x1="130.50" y1="290.60" x2="130.50" y2="293.60" stroke="#111" stroke-width="1.2" />
<text transform="translate(130.20,301.91) scale(0.8696,1)" font-size="8.97" text-anchor="middle" font-weight="normal" fill="#141414" stroke="#141414" stroke-width="0.28" >16:1</text>
<line x1="158.50" y1="290.60" x2="158.50" y2="293.60" stroke="#111" stroke-width="1.2" />
<text transform="translate(158.30,301.91) scale(0.8696,1)" font-size="8.97" text-anchor="middle" font-weight="normal" fill="#141414" stroke="#141414" stroke-width="0.28" >8:1</text>
<line x1="186.50" y1="290.60" x2="186.50" y2="293.60" stroke="#111" stroke-width="1.2" />
<text transform="translate(186.40,301.91) scale(0.8696,1)" font-size="8.97" text-anchor="middle" font-weight="normal" fill="#141414" stroke="#141414" stroke-width="0.28" >4:1</text>
<line x1="214.50" y1="290.60" x2="214.50" y2="293.60" stroke="#111" stroke-width="1.2" />
<text transform="translate(214.50,301.91) scale(0.8696,1)" font-size="8.97" text-anchor="middle" font-weight="normal" fill="#141414" stroke="#141414" stroke-width="0.28" >2:1</text>
<line x1="242.50" y1="290.60" x2="242.50" y2="293.60" stroke="#111" stroke-width="1.2" />
<text transform="translate(242.60,301.91) scale(0.8696,1)" font-size="8.97" text-anchor="middle" font-weight="normal" fill="#141414" stroke="#141414" stroke-width="0.28" >1:1</text>
<text transform="translate(158.30,316.29) scale(0.8696,1)" font-size="9.20" text-anchor="middle" font-weight="normal" fill="#141414" stroke="#141414" stroke-width="0.28" >Tresp:Treg Ratio</text>
<text transform="translate(33.06,222.70) rotate(-90) scale(0.8696,1)" font-size="9.20" text-anchor="middle" fill="#141414" stroke="#141414" stroke-width="0.28">Frequency of CD69 Expression (%)</text>
<line x1="325.20" y1="168.50" x2="403.20" y2="168.50" stroke="#333" stroke-width="1.05" />
<line x1="417.50" y1="168.50" x2="494.50" y2="168.50" stroke="#333" stroke-width="1.05" />
<circle cx="407.65" cy="168.30" r="1.05" fill="#0a0a0a"/>
<circle cx="410.40" cy="168.30" r="1.05" fill="#0a0a0a"/>
<circle cx="413.15" cy="168.30" r="1.05" fill="#0a0a0a"/>
<line x1="325.20" y1="174.50" x2="394.20" y2="174.50" stroke="#333" stroke-width="1.05" />
<line x1="403.70" y1="174.50" x2="469.50" y2="174.50" stroke="#333" stroke-width="1.05" />
<circle cx="397.62" cy="174.80" r="1.05" fill="#0a0a0a"/>
<circle cx="400.38" cy="174.80" r="1.05" fill="#0a0a0a"/>
<line x1="325.20" y1="181.50" x2="382.10" y2="181.50" stroke="#333" stroke-width="1.05" />
<line x1="389.00" y1="181.50" x2="444.50" y2="181.50" stroke="#333" stroke-width="1.05" />
<circle cx="385.60" cy="181.70" r="1.05" fill="#0a0a0a"/>
<line x1="333.50" y1="194.18" x2="333.50" y2="216.79" stroke="#111" stroke-width="1.6" />
<line x1="333.50" y1="251.47" x2="333.50" y2="276.29" stroke="#111" stroke-width="1.6" />
<line x1="329.00" y1="194.18" x2="338.00" y2="194.18" stroke="#111" stroke-width="1.7000000000000002" />
<line x1="329.00" y1="276.29" x2="338.00" y2="276.29" stroke="#111" stroke-width="1.7000000000000002" />
<rect x="324.75" y="216.79" width="17.50" height="34.68" fill="#c4c4c4" stroke="#111" stroke-width="1.7"/>
<line x1="324.75" y1="229.20" x2="342.25" y2="229.20" stroke="#111" stroke-width="1.7" />
<line x1="359.10" y1="198.94" x2="359.10" y2="214.75" stroke="#111" stroke-width="1.6" />
<line x1="359.10" y1="266.26" x2="359.10" y2="277.99" stroke="#111" stroke-width="1.6" />
<line x1="354.60" y1="198.94" x2="363.60" y2="198.94" stroke="#111" stroke-width="1.7000000000000002" />
<line x1="354.60" y1="277.99" x2="363.60" y2="277.99" stroke="#111" stroke-width="1.7000000000000002" />
<rect x="350.35" y="214.75" width="17.50" height="51.51" fill="#c4c4c4" stroke="#111" stroke-width="1.7"/>
<line x1="350.35" y1="244.50" x2="367.85" y2="244.50" stroke="#111" stroke-width="1.7" />
<line x1="384.70" y1="194.52" x2="384.70" y2="212.54" stroke="#111" stroke-width="1.6" />
<line x1="384.70" y1="259.12" x2="384.70" y2="277.99" stroke="#111" stroke-width="1.6" />
<line x1="380.20" y1="194.52" x2="389.20" y2="194.52" stroke="#111" stroke-width="1.7000000000000002" />
<line x1="380.20" y1="277.99" x2="389.20" y2="277.99" stroke="#111" stroke-width="1.7000000000000002" />
<rect x="375.95" y="212.54" width="17.50" height="46.58" fill="#c4c4c4" stroke="#111" stroke-width="1.7"/>
<line x1="375.95" y1="234.47" x2="393.45" y2="234.47" stroke="#111" stroke-width="1.7" />
<line x1="410.30" y1="203.70" x2="410.30" y2="216.28" stroke="#111" stroke-width="1.6" />
<line x1="410.30" y1="257.25" x2="410.30" y2="278.67" stroke="#111" stroke-width="1.6" />
<line x1="405.80" y1="203.70" x2="414.80" y2="203.70" stroke="#111" stroke-width="1.7000000000000002" />
<line x1="405.80" y1="278.67" x2="414.80" y2="278.67" stroke="#111" stroke-width="1.7000000000000002" />
<rect x="401.55" y="216.28" width="17.50" height="40.97" fill="#c4c4c4" stroke="#111" stroke-width="1.7"/>
<line x1="401.55" y1="224.44" x2="419.05" y2="224.44" stroke="#111" stroke-width="1.7" />
<line x1="435.90" y1="216.79" x2="435.90" y2="227.50" stroke="#111" stroke-width="1.6" />
<line x1="435.90" y1="256.40" x2="435.90" y2="279.18" stroke="#111" stroke-width="1.6" />
<line x1="431.40" y1="216.79" x2="440.40" y2="216.79" stroke="#111" stroke-width="1.7000000000000002" />
<line x1="431.40" y1="279.18" x2="440.40" y2="279.18" stroke="#111" stroke-width="1.7000000000000002" />
<rect x="427.15" y="227.50" width="17.50" height="28.90" fill="#c4c4c4" stroke="#111" stroke-width="1.7"/>
<line x1="427.15" y1="238.72" x2="444.65" y2="238.72" stroke="#111" stroke-width="1.7" />
<line x1="461.50" y1="231.24" x2="461.50" y2="238.55" stroke="#111" stroke-width="1.6" />
<line x1="461.50" y1="258.27" x2="461.50" y2="280.03" stroke="#111" stroke-width="1.6" />
<line x1="457.00" y1="231.24" x2="466.00" y2="231.24" stroke="#111" stroke-width="1.7000000000000002" />
<line x1="457.00" y1="280.03" x2="466.00" y2="280.03" stroke="#111" stroke-width="1.7000000000000002" />
<rect x="452.75" y="238.55" width="17.50" height="19.72" fill="#c4c4c4" stroke="#111" stroke-width="1.7"/>
<line x1="452.75" y1="246.71" x2="470.25" y2="246.71" stroke="#111" stroke-width="1.7" />
<line x1="487.10" y1="240.25" x2="487.10" y2="246.20" stroke="#111" stroke-width="1.6" />
<line x1="487.10" y1="267.11" x2="487.10" y2="281.22" stroke="#111" stroke-width="1.6" />
<line x1="482.60" y1="240.25" x2="491.60" y2="240.25" stroke="#111" stroke-width="1.7000000000000002" />
<line x1="482.60" y1="281.22" x2="491.60" y2="281.22" stroke="#111" stroke-width="1.7000000000000002" />
<rect x="478.35" y="246.20" width="17.50" height="20.91" fill="#c4c4c4" stroke="#111" stroke-width="1.7"/>
<line x1="478.35" y1="257.25" x2="495.85" y2="257.25" stroke="#111" stroke-width="1.7" />
<line x1="320.80" y1="287.00" x2="320.80" y2="167.40" stroke="#111" stroke-width="1.5" />
<line x1="319.20" y1="287.00" x2="320.80" y2="287.00" stroke="#111" stroke-width="1.0" />
<line x1="319.20" y1="270.00" x2="320.80" y2="270.00" stroke="#111" stroke-width="1.0" />
<line x1="319.20" y1="253.00" x2="320.80" y2="253.00" stroke="#111" stroke-width="1.0" />
<line x1="319.20" y1="236.00" x2="320.80" y2="236.00" stroke="#111" stroke-width="1.0" />
<line x1="319.20" y1="219.00" x2="320.80" y2="219.00" stroke="#111" stroke-width="1.0" />
<line x1="319.20" y1="202.00" x2="320.80" y2="202.00" stroke="#111" stroke-width="1.0" />
<line x1="319.20" y1="185.00" x2="320.80" y2="185.00" stroke="#111" stroke-width="1.0" />
<line x1="319.20" y1="168.00" x2="320.80" y2="168.00" stroke="#111" stroke-width="1.0" />
<line x1="318.20" y1="287.00" x2="320.80" y2="287.00" stroke="#111" stroke-width="1.1" />
<text transform="translate(317.20,289.96) scale(0.8696,1)" font-size="8.28" text-anchor="end" font-weight="normal" fill="#141414" stroke="#141414" stroke-width="0.28" >0</text>
<line x1="318.20" y1="270.00" x2="320.80" y2="270.00" stroke="#111" stroke-width="1.1" />
<text transform="translate(317.20,272.96) scale(0.8696,1)" font-size="8.28" text-anchor="end" font-weight="normal" fill="#141414" stroke="#141414" stroke-width="0.28" >10</text>
<line x1="318.20" y1="253.00" x2="320.80" y2="253.00" stroke="#111" stroke-width="1.1" />
<text transform="translate(317.20,255.96) scale(0.8696,1)" font-size="8.28" text-anchor="end" font-weight="normal" fill="#141414" stroke="#141414" stroke-width="0.28" >20</text>
<line x1="318.20" y1="236.00" x2="320.80" y2="236.00" stroke="#111" stroke-width="1.1" />
<text transform="translate(317.20,238.96) scale(0.8696,1)" font-size="8.28" text-anchor="end" font-weight="normal" fill="#141414" stroke="#141414" stroke-width="0.28" >30</text>
<line x1="318.20" y1="219.00" x2="320.80" y2="219.00" stroke="#111" stroke-width="1.1" />
<text transform="translate(317.20,221.96) scale(0.8696,1)" font-size="8.28" text-anchor="end" font-weight="normal" fill="#141414" stroke="#141414" stroke-width="0.28" >40</text>
<line x1="318.20" y1="202.00" x2="320.80" y2="202.00" stroke="#111" stroke-width="1.1" />
<text transform="translate(317.20,204.96) scale(0.8696,1)" font-size="8.28" text-anchor="end" font-weight="normal" fill="#141414" stroke="#141414" stroke-width="0.28" >50</text>
<line x1="318.20" y1="185.00" x2="320.80" y2="185.00" stroke="#111" stroke-width="1.1" />
<text transform="translate(317.20,187.96) scale(0.8696,1)" font-size="8.28" text-anchor="end" font-weight="normal" fill="#141414" stroke="#141414" stroke-width="0.28" >60</text>
<line x1="318.20" y1="168.00" x2="320.80" y2="168.00" stroke="#111" stroke-width="1.1" />
<text transform="translate(317.20,170.96) scale(0.8696,1)" font-size="8.28" text-anchor="end" font-weight="normal" fill="#141414" stroke="#141414" stroke-width="0.28" >70</text>
<line x1="320.10" y1="287.30" x2="499.50" y2="287.30" stroke="#111" stroke-width="1.5" />
<line x1="333.50" y1="287.30" x2="333.50" y2="290.30" stroke="#111" stroke-width="1.2" />
<text transform="translate(333.50,298.39) scale(0.8696,1)" font-size="8.62" text-anchor="middle" font-weight="normal" fill="#141414" stroke="#141414" stroke-width="0.28" >1:0</text>
<line x1="359.50" y1="287.30" x2="359.50" y2="290.30" stroke="#111" stroke-width="1.2" />
<text transform="translate(359.10,298.39) scale(0.8696,1)" font-size="8.62" text-anchor="middle" font-weight="normal" fill="#141414" stroke="#141414" stroke-width="0.28" >32:1</text>
<line x1="384.50" y1="287.30" x2="384.50" y2="290.30" stroke="#111" stroke-width="1.2" />
<text transform="translate(384.70,298.39) scale(0.8696,1)" font-size="8.62" text-anchor="middle" font-weight="normal" fill="#141414" stroke="#141414" stroke-width="0.28" >16:1</text>
<line x1="410.50" y1="287.30" x2="410.50" y2="290.30" stroke="#111" stroke-width="1.2" />
<text transform="translate(410.30,298.39) scale(0.8696,1)" font-size="8.62" text-anchor="middle" font-weight="normal" fill="#141414" stroke="#141414" stroke-width="0.28" >8:1</text>
<line x1="435.50" y1="287.30" x2="435.50" y2="290.30" stroke="#111" stroke-width="1.2" />
<text transform="translate(435.90,298.39) scale(0.8696,1)" font-size="8.62" text-anchor="middle" font-weight="normal" fill="#141414" stroke="#141414" stroke-width="0.28" >4:1</text>
<line x1="461.50" y1="287.30" x2="461.50" y2="290.30" stroke="#111" stroke-width="1.2" />
<text transform="translate(461.50,298.39) scale(0.8696,1)" font-size="8.62" text-anchor="middle" font-weight="normal" fill="#141414" stroke="#141414" stroke-width="0.28" >2:1</text>
<line x1="487.50" y1="287.30" x2="487.50" y2="290.30" stroke="#111" stroke-width="1.2" />
<text transform="translate(487.10,298.39) scale(0.8696,1)" font-size="8.62" text-anchor="middle" font-weight="normal" fill="#141414" stroke="#141414" stroke-width="0.28" >1:1</text>
<text transform="translate(410.50,313.09) scale(0.8696,1)" font-size="8.62" text-anchor="middle" font-weight="normal" fill="#141414" stroke="#141414" stroke-width="0.28" >Tresp:Treg Ratio</text>
<text transform="translate(292.41,225.70) rotate(-90) scale(0.8696,1)" font-size="8.39" text-anchor="middle" fill="#141414" stroke="#141414" stroke-width="0.28">Frequency of CD154 Expression (%)</text>
<line x1="57.70" y1="478.40" x2="57.70" y2="346.52" stroke="#111" stroke-width="1.5" />
<line x1="56.10" y1="478.40" x2="57.70" y2="478.40" stroke="#111" stroke-width="1.0" />
<line x1="56.10" y1="461.99" x2="57.70" y2="461.99" stroke="#111" stroke-width="1.0" />
<line x1="56.10" y1="445.58" x2="57.70" y2="445.58" stroke="#111" stroke-width="1.0" />
<line x1="56.10" y1="429.17" x2="57.70" y2="429.17" stroke="#111" stroke-width="1.0" />
<line x1="56.10" y1="412.76" x2="57.70" y2="412.76" stroke="#111" stroke-width="1.0" />
<line x1="56.10" y1="396.35" x2="57.70" y2="396.35" stroke="#111" stroke-width="1.0" />
<line x1="56.10" y1="379.94" x2="57.70" y2="379.94" stroke="#111" stroke-width="1.0" />
<line x1="56.10" y1="363.53" x2="57.70" y2="363.53" stroke="#111" stroke-width="1.0" />
<line x1="56.10" y1="347.12" x2="57.70" y2="347.12" stroke="#111" stroke-width="1.0" />
<line x1="55.10" y1="478.40" x2="57.70" y2="478.40" stroke="#111" stroke-width="1.1" />
<text transform="translate(54.10,481.69) scale(0.8696,1)" font-size="9.20" text-anchor="end" font-weight="normal" fill="#141414" stroke="#141414" stroke-width="0.28" >0</text>
<line x1="55.10" y1="445.58" x2="57.70" y2="445.58" stroke="#111" stroke-width="1.1" />
<text transform="translate(54.10,448.87) scale(0.8696,1)" font-size="9.20" text-anchor="end" font-weight="normal" fill="#141414" stroke="#141414" stroke-width="0.28" >20</text>
<line x1="55.10" y1="412.76" x2="57.70" y2="412.76" stroke="#111" stroke-width="1.1" />
<text transform="translate(54.10,416.05) scale(0.8696,1)" font-size="9.20" text-anchor="end" font-weight="normal" fill="#141414" stroke="#141414" stroke-width="0.28" >40</text>
<line x1="55.10" y1="379.94" x2="57.70" y2="379.94" stroke="#111" stroke-width="1.1" />
<text transform="translate(54.10,383.23) scale(0.8696,1)" font-size="9.20" text-anchor="end" font-weight="normal" fill="#141414" stroke="#141414" stroke-width="0.28" >60</text>
<line x1="55.10" y1="347.12" x2="57.70" y2="347.12" stroke="#111" stroke-width="1.1" />
<text transform="translate(54.10,350.41) scale(0.8696,1)" font-size="9.20" text-anchor="end" font-weight="normal" fill="#141414" stroke="#141414" stroke-width="0.28" >80</text>
<line x1="57.00" y1="478.40" x2="253.75" y2="478.40" stroke="#111" stroke-width="1.5" />
<line x1="87.50" y1="478.40" x2="87.50" y2="481.40" stroke="#111" stroke-width="1.2" />
<text transform="translate(87.00,491.49) scale(0.8696,1)" font-size="9.20" text-anchor="middle" font-weight="normal" fill="#141414" stroke="#141414" stroke-width="0.28" >8:1</text>
<line x1="137.50" y1="478.40" x2="137.50" y2="481.40" stroke="#111" stroke-width="1.2" />
<text transform="translate(137.50,491.49) scale(0.8696,1)" font-size="9.20" text-anchor="middle" font-weight="normal" fill="#141414" stroke="#141414" stroke-width="0.28" >4:1</text>
<line x1="187.50" y1="478.40" x2="187.50" y2="481.40" stroke="#111" stroke-width="1.2" />
<text transform="translate(187.50,491.49) scale(0.8696,1)" font-size="9.20" text-anchor="middle" font-weight="normal" fill="#141414" stroke="#141414" stroke-width="0.28" >2:1</text>
<line x1="237.50" y1="478.40" x2="237.50" y2="481.40" stroke="#111" stroke-width="1.2" />
<text transform="translate(237.50,491.49) scale(0.8696,1)" font-size="9.20" text-anchor="middle" font-weight="normal" fill="#141414" stroke="#141414" stroke-width="0.28" >1:1</text>
<text transform="translate(155.70,503.79) scale(0.8696,1)" font-size="9.20" text-anchor="middle" font-weight="normal" fill="#141414" stroke="#141414" stroke-width="0.28" >Tresp:Treg Ratio</text>
<text transform="translate(32.45,410.60) rotate(-90) scale(0.8696,1)" font-size="9.14" text-anchor="middle" fill="#141414" stroke="#141414" stroke-width="0.28">Suppression of Marker Expression (%)</text>
<line x1="87.00" y1="439.00" x2="237.50" y2="411.25" stroke="#111" stroke-width="1.4" />
<line x1="87.00" y1="452.30" x2="237.50" y2="381.25" stroke="#111" stroke-width="1.4" stroke-dasharray="4,2.6"/>
<circle cx="87" cy="434.3" r="1.7" fill="#111"/>
<circle cx="137.5" cy="434.3" r="1.7" fill="#111"/>
<circle cx="187.5" cy="426.8" r="1.7" fill="#111"/>
<circle cx="237.5" cy="405.5" r="1.7" fill="#111"/>
<circle cx="87" cy="460.8" r="1.9" fill="#fff" stroke="#111" stroke-width="1.0"/>
<circle cx="137.5" cy="415.5" r="1.9" fill="#fff" stroke="#111" stroke-width="1.0"/>
<circle cx="187.5" cy="407.5" r="1.9" fill="#fff" stroke="#111" stroke-width="1.0"/>
<circle cx="237.5" cy="383.0" r="1.9" fill="#fff" stroke="#111" stroke-width="1.0"/>
<line x1="74.50" y1="359.50" x2="84.00" y2="359.50" stroke="#111" stroke-width="1.2" />
<circle cx="79.5" cy="359.5" r="1.6" fill="#111"/>
<line x1="74.50" y1="371.30" x2="84.00" y2="371.30" stroke="#111" stroke-width="1.2" />
<circle cx="79.5" cy="371.3" r="1.8" fill="#fff" stroke="#111" stroke-width="1.0"/>
<text transform="translate(88.30,362.60) scale(0.8696,1)" font-size="9.89" text-anchor="start" font-weight="normal" fill="#141414" stroke="#141414" stroke-width="0.28" textLength="61.3" lengthAdjust="spacingAndGlyphs">CD69: R<tspan dy="-3.4" font-size="5.8">2</tspan><tspan dy="3.4">=0.79</tspan></text>
<text transform="translate(88.30,374.40) scale(0.8696,1)" font-size="9.89" text-anchor="start" font-weight="normal" fill="#141414" stroke="#141414" stroke-width="0.28" textLength="66.5" lengthAdjust="spacingAndGlyphs">CD154: R<tspan dy="-3.4" font-size="5.8">2</tspan><tspan dy="3.4">=0.92</tspan></text>
<line x1="320.50" y1="452.50" x2="517.50" y2="452.50" stroke="#aaa" stroke-width="0.9" />
<line x1="345.00" y1="352.50" x2="406.50" y2="352.50" stroke="#333" stroke-width="1.05" />
<line x1="424.50" y1="352.50" x2="492.80" y2="352.50" stroke="#333" stroke-width="1.05" />
<circle cx="411.80" cy="352.70" r="1.3" fill="#0a0a0a"/>
<circle cx="415.80" cy="352.70" r="1.3" fill="#0a0a0a"/>
<circle cx="419.80" cy="352.70" r="1.3" fill="#0a0a0a"/>
<line x1="392.50" y1="359.50" x2="436.50" y2="359.50" stroke="#333" stroke-width="1.05" />
<line x1="453.50" y1="359.50" x2="492.80" y2="359.50" stroke="#333" stroke-width="1.05" />
<circle cx="441.00" cy="359.00" r="1.3" fill="#0a0a0a"/>
<circle cx="445.00" cy="359.00" r="1.3" fill="#0a0a0a"/>
<circle cx="449.00" cy="359.00" r="1.3" fill="#0a0a0a"/>
<line x1="443.80" y1="364.50" x2="460.30" y2="364.50" stroke="#333" stroke-width="1.05" />
<line x1="477.00" y1="364.50" x2="492.80" y2="364.50" stroke="#333" stroke-width="1.05" />
<circle cx="464.60" cy="364.70" r="1.3" fill="#0a0a0a"/>
<circle cx="468.60" cy="364.70" r="1.3" fill="#0a0a0a"/>
<circle cx="472.60" cy="364.70" r="1.3" fill="#0a0a0a"/>
<line x1="343.00" y1="380.50" x2="386.50" y2="380.50" stroke="#333" stroke-width="1.05" />
<line x1="403.20" y1="380.50" x2="442.70" y2="380.50" stroke="#333" stroke-width="1.05" />
<circle cx="390.70" cy="380.40" r="1.3" fill="#0a0a0a"/>
<circle cx="394.70" cy="380.40" r="1.3" fill="#0a0a0a"/>
<circle cx="398.70" cy="380.40" r="1.3" fill="#0a0a0a"/>
<line x1="394.25" y1="387.50" x2="414.50" y2="387.50" stroke="#333" stroke-width="1.05" />
<line x1="423.50" y1="387.50" x2="442.70" y2="387.50" stroke="#333" stroke-width="1.05" />
<circle cx="419.00" cy="387.30" r="1.3" fill="#0a0a0a"/>
<line x1="345.25" y1="406.30" x2="345.25" y2="429.53" stroke="#111" stroke-width="1.6" />
<line x1="345.25" y1="459.19" x2="345.25" y2="469.30" stroke="#111" stroke-width="1.6" />
<line x1="336.75" y1="406.30" x2="353.75" y2="406.30" stroke="#111" stroke-width="1.7000000000000002" />
<line x1="336.75" y1="469.30" x2="353.75" y2="469.30" stroke="#111" stroke-width="1.7000000000000002" />
<rect x="329.00" y="429.53" width="32.50" height="29.66" fill="#c4c4c4" stroke="#111" stroke-width="1.7"/>
<line x1="329.00" y1="444.49" x2="361.50" y2="444.49" stroke="#111" stroke-width="1.7" />
<line x1="394.50" y1="398.29" x2="394.50" y2="412.73" stroke="#111" stroke-width="1.6" />
<line x1="394.50" y1="446.73" x2="394.50" y2="458.01" stroke="#111" stroke-width="1.6" />
<line x1="386.00" y1="398.29" x2="403.00" y2="398.29" stroke="#111" stroke-width="1.7000000000000002" />
<line x1="386.00" y1="458.01" x2="403.00" y2="458.01" stroke="#111" stroke-width="1.7000000000000002" />
<rect x="378.25" y="412.73" width="32.50" height="33.99" fill="#c4c4c4" stroke="#111" stroke-width="1.7"/>
<line x1="378.25" y1="442.52" x2="410.75" y2="442.52" stroke="#111" stroke-width="1.7" />
<line x1="443.50" y1="395.80" x2="443.50" y2="406.56" stroke="#111" stroke-width="1.6" />
<line x1="443.50" y1="434.12" x2="443.50" y2="438.85" stroke="#111" stroke-width="1.6" />
<line x1="435.00" y1="395.80" x2="452.00" y2="395.80" stroke="#111" stroke-width="1.7000000000000002" />
<line x1="435.00" y1="438.85" x2="452.00" y2="438.85" stroke="#111" stroke-width="1.7000000000000002" />
<rect x="427.25" y="406.56" width="32.50" height="27.56" fill="#c4c4c4" stroke="#111" stroke-width="1.7"/>
<line x1="427.25" y1="424.15" x2="459.75" y2="424.15" stroke="#111" stroke-width="1.7" />
<line x1="492.50" y1="371.65" x2="492.50" y2="388.84" stroke="#111" stroke-width="1.6" />
<line x1="492.50" y1="411.94" x2="492.50" y2="445.02" stroke="#111" stroke-width="1.6" />
<line x1="484.00" y1="371.65" x2="501.00" y2="371.65" stroke="#111" stroke-width="1.7000000000000002" />
<line x1="484.00" y1="445.02" x2="501.00" y2="445.02" stroke="#111" stroke-width="1.7000000000000002" />
<rect x="476.25" y="388.84" width="32.50" height="23.10" fill="#c4c4c4" stroke="#111" stroke-width="1.7"/>
<line x1="476.25" y1="400.00" x2="508.75" y2="400.00" stroke="#111" stroke-width="1.7" />
<line x1="320.00" y1="478.75" x2="320.00" y2="346.90" stroke="#111" stroke-width="1.5" />
<line x1="318.40" y1="478.75" x2="320.00" y2="478.75" stroke="#111" stroke-width="1.0" />
<line x1="318.40" y1="465.62" x2="320.00" y2="465.62" stroke="#111" stroke-width="1.0" />
<line x1="318.40" y1="452.50" x2="320.00" y2="452.50" stroke="#111" stroke-width="1.0" />
<line x1="318.40" y1="439.38" x2="320.00" y2="439.38" stroke="#111" stroke-width="1.0" />
<line x1="318.40" y1="426.25" x2="320.00" y2="426.25" stroke="#111" stroke-width="1.0" />
<line x1="318.40" y1="413.12" x2="320.00" y2="413.12" stroke="#111" stroke-width="1.0" />
<line x1="318.40" y1="400.00" x2="320.00" y2="400.00" stroke="#111" stroke-width="1.0" />
<line x1="318.40" y1="386.88" x2="320.00" y2="386.88" stroke="#111" stroke-width="1.0" />
<line x1="318.40" y1="373.75" x2="320.00" y2="373.75" stroke="#111" stroke-width="1.0" />
<line x1="318.40" y1="360.62" x2="320.00" y2="360.62" stroke="#111" stroke-width="1.0" />
<line x1="318.40" y1="347.50" x2="320.00" y2="347.50" stroke="#111" stroke-width="1.0" />
<line x1="317.40" y1="478.75" x2="320.00" y2="478.75" stroke="#111" stroke-width="1.1" />
<text transform="translate(316.40,482.04) scale(0.8696,1)" font-size="9.20" text-anchor="end" font-weight="normal" fill="#141414" stroke="#141414" stroke-width="0.28" >-20</text>
<line x1="317.40" y1="452.50" x2="320.00" y2="452.50" stroke="#111" stroke-width="1.1" />
<text transform="translate(316.40,455.79) scale(0.8696,1)" font-size="9.20" text-anchor="end" font-weight="normal" fill="#141414" stroke="#141414" stroke-width="0.28" >0</text>
<line x1="317.40" y1="426.25" x2="320.00" y2="426.25" stroke="#111" stroke-width="1.1" />
<text transform="translate(316.40,429.54) scale(0.8696,1)" font-size="9.20" text-anchor="end" font-weight="normal" fill="#141414" stroke="#141414" stroke-width="0.28" >20</text>
<line x1="317.40" y1="400.00" x2="320.00" y2="400.00" stroke="#111" stroke-width="1.1" />
<text transform="translate(316.40,403.29) scale(0.8696,1)" font-size="9.20" text-anchor="end" font-weight="normal" fill="#141414" stroke="#141414" stroke-width="0.28" >40</text>
<line x1="317.40" y1="373.75" x2="320.00" y2="373.75" stroke="#111" stroke-width="1.1" />
<text transform="translate(316.40,377.04) scale(0.8696,1)" font-size="9.20" text-anchor="end" font-weight="normal" fill="#141414" stroke="#141414" stroke-width="0.28" >60</text>
<line x1="317.40" y1="347.50" x2="320.00" y2="347.50" stroke="#111" stroke-width="1.1" />
<text transform="translate(316.40,350.79) scale(0.8696,1)" font-size="9.20" text-anchor="end" font-weight="normal" fill="#141414" stroke="#141414" stroke-width="0.28" >80</text>
<line x1="319.30" y1="478.75" x2="517.50" y2="478.75" stroke="#111" stroke-width="1.5" />
<line x1="345.50" y1="478.75" x2="345.50" y2="481.75" stroke="#111" stroke-width="1.2" />
<text transform="translate(345.25,490.04) scale(0.8696,1)" font-size="9.20" text-anchor="middle" font-weight="normal" fill="#141414" stroke="#141414" stroke-width="0.28" >8:1</text>
<line x1="394.50" y1="478.75" x2="394.50" y2="481.75" stroke="#111" stroke-width="1.2" />
<text transform="translate(394.50,490.04) scale(0.8696,1)" font-size="9.20" text-anchor="middle" font-weight="normal" fill="#141414" stroke="#141414" stroke-width="0.28" >4:1</text>
<line x1="443.50" y1="478.75" x2="443.50" y2="481.75" stroke="#111" stroke-width="1.2" />
<text transform="translate(443.50,490.04) scale(0.8696,1)" font-size="9.20" text-anchor="middle" font-weight="normal" fill="#141414" stroke="#141414" stroke-width="0.28" >2:1</text>
<line x1="492.50" y1="478.75" x2="492.50" y2="481.75" stroke="#111" stroke-width="1.2" />
<text transform="translate(492.50,490.04) scale(0.8696,1)" font-size="9.20" text-anchor="middle" font-weight="normal" fill="#141414" stroke="#141414" stroke-width="0.28" >1:1</text>
<text transform="translate(418.70,503.29) scale(0.8696,1)" font-size="9.20" text-anchor="middle" font-weight="normal" fill="#141414" stroke="#141414" stroke-width="0.28" >Tresp:Treg Ratio</text>
<text transform="translate(294.05,410.90) rotate(-90) scale(0.8696,1)" font-size="9.14" text-anchor="middle" fill="#141414" stroke="#141414" stroke-width="0.28">Suppression of CD69 Expression (%)</text>
<text transform="translate(394.50,468.59) scale(0.8696,1)" font-size="8.62" text-anchor="middle" font-weight="normal" fill="#141414" stroke="#141414" stroke-width="0.28" >†</text>
<text transform="translate(445.00,468.59) scale(0.8696,1)" font-size="8.62" text-anchor="middle" font-weight="normal" fill="#141414" stroke="#141414" stroke-width="0.28" >††</text>
<text transform="translate(492.80,468.59) scale(0.8696,1)" font-size="8.62" text-anchor="middle" font-weight="normal" fill="#141414" stroke="#141414" stroke-width="0.28" >††</text>
<line x1="60.50" y1="638.75" x2="257.00" y2="638.75" stroke="#aaa" stroke-width="0.9" />
<line x1="85.00" y1="542.50" x2="146.50" y2="542.50" stroke="#333" stroke-width="1.05" />
<line x1="164.50" y1="542.50" x2="232.50" y2="542.50" stroke="#333" stroke-width="1.05" />
<circle cx="151.30" cy="542.60" r="1.3" fill="#0a0a0a"/>
<circle cx="155.30" cy="542.60" r="1.3" fill="#0a0a0a"/>
<circle cx="159.30" cy="542.60" r="1.3" fill="#0a0a0a"/>
<line x1="132.50" y1="548.50" x2="179.00" y2="548.50" stroke="#333" stroke-width="1.05" />
<line x1="190.00" y1="548.50" x2="232.50" y2="548.50" stroke="#333" stroke-width="1.05" />
<circle cx="182.60" cy="548.75" r="1.3" fill="#0a0a0a"/>
<circle cx="186.60" cy="548.75" r="1.3" fill="#0a0a0a"/>
<line x1="183.00" y1="554.50" x2="200.50" y2="554.50" stroke="#333" stroke-width="1.05" />
<line x1="217.00" y1="554.50" x2="232.50" y2="554.50" stroke="#333" stroke-width="1.05" />
<circle cx="204.80" cy="554.70" r="1.3" fill="#0a0a0a"/>
<circle cx="208.80" cy="554.70" r="1.3" fill="#0a0a0a"/>
<circle cx="212.80" cy="554.70" r="1.3" fill="#0a0a0a"/>
<line x1="133.75" y1="565.50" x2="154.00" y2="565.50" stroke="#333" stroke-width="1.05" />
<line x1="163.00" y1="565.50" x2="182.50" y2="565.50" stroke="#333" stroke-width="1.05" />
<circle cx="158.50" cy="565.00" r="1.3" fill="#0a0a0a"/>
<line x1="85.00" y1="582.46" x2="85.00" y2="616.31" stroke="#111" stroke-width="1.6" />
<line x1="85.00" y1="654.54" x2="85.00" y2="660.72" stroke="#111" stroke-width="1.6" />
<line x1="76.50" y1="582.46" x2="93.50" y2="582.46" stroke="#111" stroke-width="1.7000000000000002" />
<line x1="76.50" y1="660.72" x2="93.50" y2="660.72" stroke="#111" stroke-width="1.7000000000000002" />
<rect x="68.75" y="616.31" width="32.50" height="38.24" fill="#c4c4c4" stroke="#111" stroke-width="1.7"/>
<line x1="68.75" y1="629.96" x2="101.25" y2="629.96" stroke="#111" stroke-width="1.7" />
<line x1="134.00" y1="573.79" x2="134.00" y2="592.56" stroke="#111" stroke-width="1.6" />
<line x1="134.00" y1="636.26" x2="134.00" y2="648.01" stroke="#111" stroke-width="1.6" />
<line x1="125.50" y1="573.79" x2="142.50" y2="573.79" stroke="#111" stroke-width="1.7000000000000002" />
<line x1="125.50" y1="648.01" x2="142.50" y2="648.01" stroke="#111" stroke-width="1.7000000000000002" />
<rect x="117.75" y="592.56" width="32.50" height="43.70" fill="#c4c4c4" stroke="#111" stroke-width="1.7"/>
<line x1="117.75" y1="626.28" x2="150.25" y2="626.28" stroke="#111" stroke-width="1.7" />
<line x1="183.00" y1="579.26" x2="183.00" y2="586.26" stroke="#111" stroke-width="1.6" />
<line x1="183.00" y1="613.69" x2="183.00" y2="625.81" stroke="#111" stroke-width="1.6" />
<line x1="174.50" y1="579.26" x2="191.50" y2="579.26" stroke="#111" stroke-width="1.7000000000000002" />
<line x1="174.50" y1="625.81" x2="191.50" y2="625.81" stroke="#111" stroke-width="1.7000000000000002" />
<rect x="166.75" y="586.26" width="32.50" height="27.43" fill="#c4c4c4" stroke="#111" stroke-width="1.7"/>
<line x1="166.75" y1="600.04" x2="199.25" y2="600.04" stroke="#111" stroke-width="1.7" />
<line x1="232.00" y1="562.04" x2="232.00" y2="567.02" stroke="#111" stroke-width="1.6" />
<line x1="232.00" y1="591.25" x2="232.00" y2="615.71" stroke="#111" stroke-width="1.6" />
<line x1="223.50" y1="562.04" x2="240.50" y2="562.04" stroke="#111" stroke-width="1.7000000000000002" />
<line x1="223.50" y1="615.71" x2="240.50" y2="615.71" stroke="#111" stroke-width="1.7000000000000002" />
<rect x="215.75" y="567.02" width="32.50" height="24.23" fill="#c4c4c4" stroke="#111" stroke-width="1.7"/>
<line x1="215.75" y1="579.49" x2="248.25" y2="579.49" stroke="#111" stroke-width="1.7" />
<line x1="60.50" y1="674.82" x2="60.50" y2="542.71" stroke="#111" stroke-width="1.5" />
<line x1="58.90" y1="674.82" x2="60.50" y2="674.82" stroke="#111" stroke-width="1.0" />
<line x1="58.90" y1="662.86" x2="60.50" y2="662.86" stroke="#111" stroke-width="1.0" />
<line x1="58.90" y1="650.91" x2="60.50" y2="650.91" stroke="#111" stroke-width="1.0" />
<line x1="58.90" y1="638.95" x2="60.50" y2="638.95" stroke="#111" stroke-width="1.0" />
<line x1="58.90" y1="627.00" x2="60.50" y2="627.00" stroke="#111" stroke-width="1.0" />
<line x1="58.90" y1="615.04" x2="60.50" y2="615.04" stroke="#111" stroke-width="1.0" />
<line x1="58.90" y1="603.09" x2="60.50" y2="603.09" stroke="#111" stroke-width="1.0" />
<line x1="58.90" y1="591.13" x2="60.50" y2="591.13" stroke="#111" stroke-width="1.0" />
<line x1="58.90" y1="579.18" x2="60.50" y2="579.18" stroke="#111" stroke-width="1.0" />
<line x1="58.90" y1="567.22" x2="60.50" y2="567.22" stroke="#111" stroke-width="1.0" />
<line x1="58.90" y1="555.27" x2="60.50" y2="555.27" stroke="#111" stroke-width="1.0" />
<line x1="58.90" y1="543.31" x2="60.50" y2="543.31" stroke="#111" stroke-width="1.0" />
<line x1="57.90" y1="662.86" x2="60.50" y2="662.86" stroke="#111" stroke-width="1.1" />
<text transform="translate(56.90,666.15) scale(0.8696,1)" font-size="9.20" text-anchor="end" font-weight="normal" fill="#141414" stroke="#141414" stroke-width="0.28" >-20</text>
<line x1="57.90" y1="638.95" x2="60.50" y2="638.95" stroke="#111" stroke-width="1.1" />
<text transform="translate(56.90,642.24) scale(0.8696,1)" font-size="9.20" text-anchor="end" font-weight="normal" fill="#141414" stroke="#141414" stroke-width="0.28" >0</text>
<line x1="57.90" y1="615.04" x2="60.50" y2="615.04" stroke="#111" stroke-width="1.1" />
<text transform="translate(56.90,618.33) scale(0.8696,1)" font-size="9.20" text-anchor="end" font-weight="normal" fill="#141414" stroke="#141414" stroke-width="0.28" >20</text>
<line x1="57.90" y1="591.13" x2="60.50" y2="591.13" stroke="#111" stroke-width="1.1" />
<text transform="translate(56.90,594.42) scale(0.8696,1)" font-size="9.20" text-anchor="end" font-weight="normal" fill="#141414" stroke="#141414" stroke-width="0.28" >40</text>
<line x1="57.90" y1="567.22" x2="60.50" y2="567.22" stroke="#111" stroke-width="1.1" />
<text transform="translate(56.90,570.51) scale(0.8696,1)" font-size="9.20" text-anchor="end" font-weight="normal" fill="#141414" stroke="#141414" stroke-width="0.28" >60</text>
<line x1="57.90" y1="543.31" x2="60.50" y2="543.31" stroke="#111" stroke-width="1.1" />
<text transform="translate(56.90,546.60) scale(0.8696,1)" font-size="9.20" text-anchor="end" font-weight="normal" fill="#141414" stroke="#141414" stroke-width="0.28" >80</text>
<line x1="59.80" y1="673.80" x2="257.00" y2="673.80" stroke="#111" stroke-width="1.5" />
<line x1="85.50" y1="673.80" x2="85.50" y2="676.80" stroke="#111" stroke-width="1.2" />
<text transform="translate(85.00,685.59) scale(0.8696,1)" font-size="9.20" text-anchor="middle" font-weight="normal" fill="#141414" stroke="#141414" stroke-width="0.28" >8:1</text>
<line x1="134.50" y1="673.80" x2="134.50" y2="676.80" stroke="#111" stroke-width="1.2" />
<text transform="translate(134.00,685.59) scale(0.8696,1)" font-size="9.20" text-anchor="middle" font-weight="normal" fill="#141414" stroke="#141414" stroke-width="0.28" >4:1</text>
<line x1="183.50" y1="673.80" x2="183.50" y2="676.80" stroke="#111" stroke-width="1.2" />
<text transform="translate(183.00,685.59) scale(0.8696,1)" font-size="9.20" text-anchor="middle" font-weight="normal" fill="#141414" stroke="#141414" stroke-width="0.28" >2:1</text>
<line x1="232.50" y1="673.80" x2="232.50" y2="676.80" stroke="#111" stroke-width="1.2" />
<text transform="translate(232.00,685.59) scale(0.8696,1)" font-size="9.20" text-anchor="middle" font-weight="normal" fill="#141414" stroke="#141414" stroke-width="0.28" >1:1</text>
<text transform="translate(158.30,700.18) scale(0.8696,1)" font-size="9.43" text-anchor="middle" font-weight="normal" fill="#141414" stroke="#141414" stroke-width="0.28" >Tresp:Treg Ratio</text>
<text transform="translate(32.75,607.00) rotate(-90) scale(0.8696,1)" font-size="9.14" text-anchor="middle" fill="#141414" stroke="#141414" stroke-width="0.28">Suppression of CD154 Expression (%)</text>
<text transform="translate(134.00,664.59) scale(0.8696,1)" font-size="8.62" text-anchor="middle" font-weight="normal" fill="#141414" stroke="#141414" stroke-width="0.28" >†</text>
<text transform="translate(184.50,664.59) scale(0.8696,1)" font-size="8.62" text-anchor="middle" font-weight="normal" fill="#141414" stroke="#141414" stroke-width="0.28" >††</text>
<text transform="translate(232.30,664.59) scale(0.8696,1)" font-size="8.62" text-anchor="middle" font-weight="normal" fill="#141414" stroke="#141414" stroke-width="0.28" >††</text>
</g></svg>
</body></html>
